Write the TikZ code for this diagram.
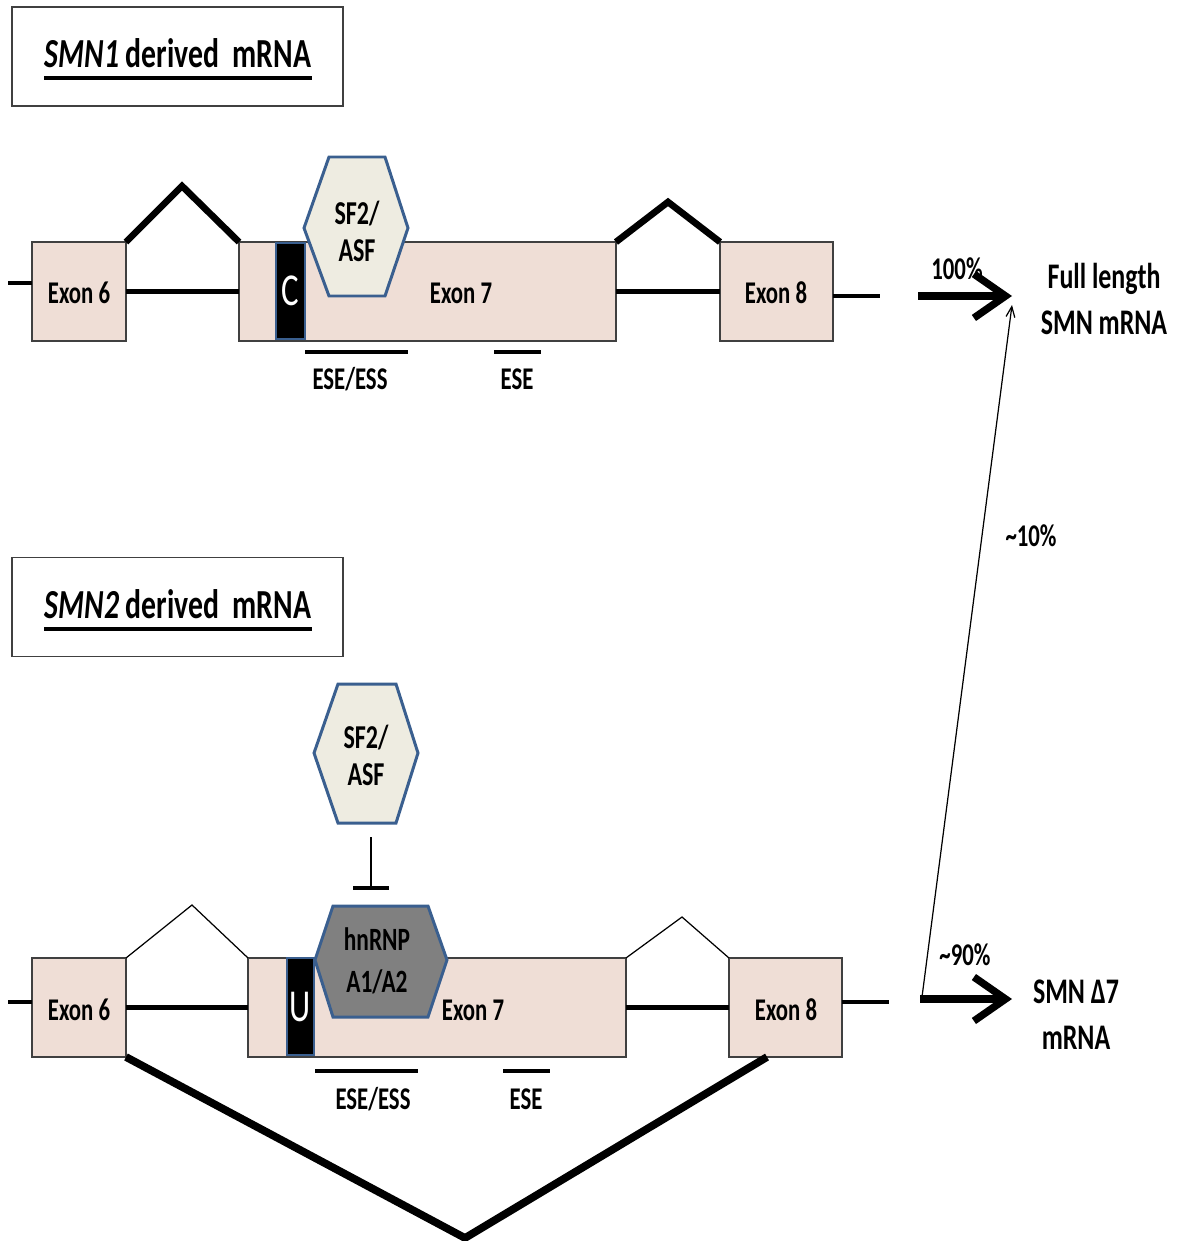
\documentclass[tikz,border=0pt]{standalone}
\usepackage{fontspec}
\setmainfont{Carlito}[FakeStretch=0.72]
\usepackage{tikz}
\usetikzlibrary{positioning}
\usetikzlibrary{arrows.meta}
\usetikzlibrary{calc}

\definecolor{exonfill}{HTML}{EFDED6}
\definecolor{hexfill}{HTML}{EEECE1}
\definecolor{hexline}{HTML}{3A5F8F}
\definecolor{hnrnpfill}{HTML}{808080}
\definecolor{boxline}{HTML}{404040}

\tikzset{
  exon/.style={draw=boxline, line width=0.8pt, fill=exonfill,
    minimum height=1.98cm, inner sep=0pt, outer sep=0pt},
  nucl/.style={draw=hexline, line width=0.6pt, fill=black, text=white,
    inner sep=0pt, outer sep=0pt, font=\fontsize{26}{26}\selectfont},
  intron/.style={line width=2.3pt},
  splice/.style={line width=3.8pt},
  thinsplice/.style={line width=0.7pt},
  region/.style={line width=2.3pt},
  factor/.style={draw=hexline, line width=1.7pt},
  lbl/.style={font=\bfseries\fontsize{18}{22}\selectfont, inner sep=0pt},
  factorlbl/.style={font=\bfseries\fontsize{19}{21}\selectfont, align=center, inner sep=0pt},
  product/.style={font=\bfseries\fontsize{20.5}{26}\selectfont, align=center, inner sep=0pt},
  titlebox/.style={draw=boxline, line width=0.7pt, minimum width=6.62cm,
    minimum height=1.98cm, inner sep=0pt, outer sep=0pt},
  titlelbl/.style={font=\bfseries\fontsize{23.5}{28}\selectfont, inner sep=0pt, anchor=base},
  yield/.style={line width=4.2pt, -{Straight Barb[length=18pt,width=25pt]}},
  minor/.style={line width=0.7pt, -{Straight Barb[length=6pt,width=5pt]}},
}

\begin{document}
\begin{tikzpicture}[x=0.02cm, y=-0.02cm]
\useasboundingbox (0,0) rectangle (1181,1241);

% SMN1 header
\node[titlebox] (box1) at (177.5,56.5) {};
\node[titlelbl] (t1) at (178,67) {\textit{SMN1} derived\ \ mRNA};
\draw[line width=2.3pt] ($(t1.base west)+(0,11)$) -- ($(t1.base east)+(0,11)$);

% SMN1 exons
\node[exon, minimum width=1.88cm] (e6a) at (79,291.5) {};
\node[exon, minimum width=7.54cm] (e7a) at (427.5,291.5) {};
\node[exon, minimum width=2.26cm] (e8a) at (776.5,291.5) {};
\node[lbl] (l6a) at (79,293) {Exon 6};
\node[lbl] (l7a) at (461,293) {Exon 7};
\node[lbl] (l8a) at (776,293) {Exon 8};

% introns
\coordinate (ls1) at (8,283);
\coordinate (rs1) at (880,296);
\draw[intron] (ls1) -- (ls1 -| e6a.west);
\draw[intron] (e6a.east) -- (e7a.west);
\draw[intron] (e7a.east) -- (e8a.west);
\draw[intron] (rs1 -| e8a.east) -- (rs1);

% inclusion of exon 7
\coordinate (sp1) at (182,186);
\coordinate (sp2) at (668,202);
\draw[splice] (e6a.north east) -- (sp1) -- (e7a.north west);
\draw[splice] (e7a.north east) -- (sp2) -- (e8a.north west);

% C at position 6
\node[nucl, minimum width=0.58cm, minimum height=1.92cm] (cA) at (290.5,291) {C};

% SF2/ASF bound to exon 7
\filldraw[factor, fill=hexfill] (329,157) -- (385,157) -- (408,228) -- (385,296)
  -- (329,296) -- (304,228) -- cycle;
\node[factorlbl] (sfA) at (357,231) {SF2/\\ASF};

% enhancer / silencer regions
\draw[region] (305,352) -- (408,352);
\draw[region] (494,352) -- (541,352);
\node[lbl] (esA) at (350,379) {ESE/ESS};
\node[lbl] (eA) at (517,379) {ESE};

% full length product
\coordinate (fa) at (918,296);
\coordinate (fb) at (1012,296);
\draw[yield] (fa) -- (fb);
\node[lbl] (p100) at (957,269) {100\%};
\node[product] (fl) at (1104,299) {Full length\\SMN mRNA};

% SMN2 header
\node[titlebox] (box2) at (177.5,607) {};
\node[titlelbl] (t2) at (178,618) {\textit{SMN2} derived\ \ mRNA};
\draw[line width=2.3pt] ($(t2.base west)+(0,11)$) -- ($(t2.base east)+(0,11)$);

% SMN2 exons
\node[exon, minimum width=1.88cm] (e6b) at (79,1007.5) {};
\node[exon, minimum width=7.56cm] (e7b) at (437,1007.5) {};
\node[exon, minimum width=2.26cm] (e8b) at (785.5,1007.5) {};
\node[lbl] (l6b) at (79,1010) {Exon 6};
\node[lbl] (l7b) at (473,1010) {Exon 7};
\node[lbl] (l8b) at (786,1010) {Exon 8};

% introns
\coordinate (ls2) at (8,1002);
\coordinate (rs2) at (889,1002);
\draw[intron] (ls2) -- (ls2 -| e6b.west);
\draw[intron] (e6b.east) -- (e7b.west);
\draw[intron] (e7b.east) -- (e8b.west);
\draw[intron] (rs2 -| e8b.east) -- (rs2);

% weak inclusion
\coordinate (sp3) at (192,905);
\coordinate (sp4) at (682,917);
\draw[thinsplice] (e6b.north east) -- (sp3) -- (e7b.north west);
\draw[thinsplice] (e7b.north east) -- (sp4) -- (e8b.north west);

% exon 7 skipping
\coordinate (sk1) at (465,1238);
\coordinate (sk2) at (767,1057);
\draw[line width=4.4pt] (e6b.south east) -- (sk1) -- (sk2);

% U at position 6
\node[nucl, minimum width=0.54cm, minimum height=1.94cm] (uB) at (300.5,1006.5) {U};

% hnRNP A1/A2 bound to exon 7
\filldraw[factor, fill=hnrnpfill] (333,906) -- (428,906) -- (447,960) -- (428,1017)
  -- (333,1017) -- (315,960) -- cycle;
\node[factorlbl, font=\bfseries\fontsize{18.5}{24}\selectfont] (hn) at (377,961) {hnRNP\\A1/A2};

% SF2/ASF kept off
\filldraw[factor, fill=hexfill] (338,684) -- (396,684) -- (418,753) -- (396,823)
  -- (338,823) -- (314,753) -- cycle;
\node[factorlbl] (sfB) at (366,755) {SF2/\\ASF};
\coordinate (inhA) at (371,837);
\coordinate (inhB) at (371,890);
\draw[line width=1.1pt, -{Bar[width=20pt, line width=2.2pt]}] (inhA) -- (inhB);

% enhancer / silencer regions
\draw[region] (315,1071) -- (418,1071);
\draw[region] (503,1071) -- (550,1071);
\node[lbl] (esB) at (373,1099) {ESE/ESS};
\node[lbl] (eB) at (526,1099) {ESE};

% delta 7 product
\coordinate (da) at (920,999);
\coordinate (db) at (1012,999);
\draw[yield] (da) -- (db);
\node[lbl] (p90) at (965,955) {\textasciitilde90\%};
\node[product] (d7) at (1076,1015) {SMN Δ7\\mRNA};

% some SMN2 transcripts keep exon 7
\coordinate (ma) at (922,997);
\coordinate (mb) at (1012,305);
\draw[minor] (ma) -- (mb);
\node[lbl] (p10) at (1031,536) {\textasciitilde10\%};

\end{tikzpicture}
\end{document}
